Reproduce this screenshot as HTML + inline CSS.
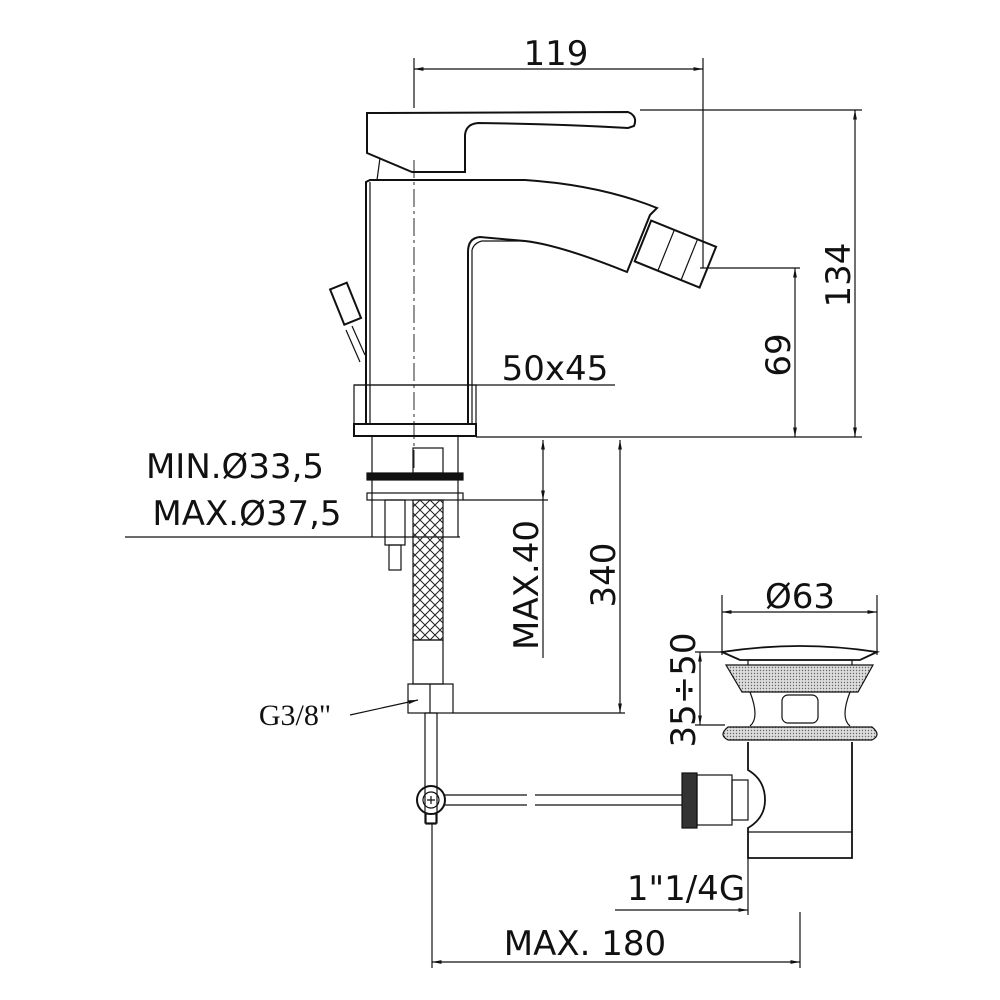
<!DOCTYPE html>
<html><head><style>body{margin:0;background:#fff}svg{display:block}text{font-family:"DejaVu Sans","Liberation Sans",sans-serif;fill:#111}</style></head><body>
<svg width="1000" height="1000" viewBox="0 0 1000 1000" xmlns="http://www.w3.org/2000/svg">
<defs>
<marker id="a" viewBox="0 0 10 10" refX="10" refY="5" markerWidth="8" markerHeight="8" orient="auto-start-reverse"><path d="M0,3 L10,5 L0,7z" fill="#111"/></marker>
<pattern id="x" width="10" height="10" patternUnits="userSpaceOnUse"><path d="M0,0L10,10M10,0L0,10" stroke="#222" stroke-width="1"/></pattern>
<pattern id="d" width="3" height="3" patternUnits="userSpaceOnUse"><rect width="3" height="3" fill="#ddd"/><circle cx="1.5" cy="1.5" r="0.7" fill="#666"/></pattern>
</defs>
<g fill="none" stroke="#111" stroke-width="1.2">
<!-- top dim 119 -->
<line x1="414" y1="58" x2="414" y2="108"/><line x1="703" y1="58" x2="703" y2="268"/>
<line x1="414" y1="69" x2="703" y2="69" marker-start="url(#a)" marker-end="url(#a)"/>
<!-- lever -->
<path stroke-width="2" d="M367,113 L628,112 Q638,116 634,126 L628,128 Q560,124 478,123 Q466,124 465,135 L465,172 L412,172 L367,153 Z"/>
<line x1="380" y1="158" x2="377" y2="180"/>
<!-- body -->
<path stroke-width="2" d="M366,425 L366,182 L370,180 L525,180 Q600,185 657,208 L650,215 L627,272 Q560,245 525,241 L480,237 Q468,238 468,252 L468,425"/>
<path d="M472,425 L472,250 Q474,243 482,241 L525,241"/>
<path d="M370,182 L370,425"/>
<!-- aerator -->
<g transform="rotate(22 675 255)"><rect x="640" y="232" width="70" height="44" stroke-width="2"/><line x1="665" y1="232" x2="665" y2="276"/><line x1="690" y1="232" x2="690" y2="276"/></g>
<!-- center dash line -->
<line x1="414" y1="160" x2="414" y2="470" stroke-dasharray="18,4,3,4" stroke-width="0.9"/>
<!-- base -->
<rect x="354" y="385" width="122" height="39"/>
<rect x="354" y="424" width="122" height="12" stroke-width="2"/>
<line x1="354" y1="385" x2="615" y2="385"/>
<!-- knob -->
<g transform="rotate(-22 345 305)"><rect x="337" y="285" width="18" height="38" stroke-width="2"/></g>
<path d="M352,326 L365,355 M346,330 L360,362"/>
<!-- right dims -->
<line x1="476" y1="437" x2="862" y2="437"/>
<line x1="640" y1="110" x2="862" y2="110"/>
<line x1="855" y1="110" x2="855" y2="437" marker-start="url(#a)" marker-end="url(#a)"/>
<line x1="700" y1="268" x2="800" y2="268"/>
<line x1="795" y1="268" x2="795" y2="437" marker-start="url(#a)" marker-end="url(#a)"/>
<!-- under deck -->
<line x1="372" y1="437" x2="372" y2="537"/><line x1="458" y1="437" x2="458" y2="537"/>
<line x1="125" y1="537" x2="460" y2="537"/>
<rect x="367" y="473" width="96" height="7" fill="#111"/>
<rect x="367" y="493" width="96" height="7"/>
<rect x="385" y="500" width="20" height="45"/><rect x="389" y="545" width="12" height="25"/>
<rect x="413" y="500" width="30" height="140" fill="url(#x)"/>
<rect x="413" y="448" width="30" height="25"/>
<rect x="413" y="640" width="30" height="44"/>
<rect x="408" y="684" width="45" height="29"/><line x1="430" y1="684" x2="430" y2="713"/>
<rect x="425" y="713" width="12" height="110"/>
<circle cx="431" cy="800" r="14" stroke-width="2"/><circle cx="431" cy="800" r="8"/>
<path d="M427,800h8M431,796v8"/>
<rect x="426" y="814" width="10" height="10"/>
<line x1="432" y1="824" x2="432" y2="968"/>
<line x1="350" y1="715" x2="418" y2="700" marker-end="url(#a)"/>
<!-- MAX40 / 340 -->
<line x1="463" y1="500" x2="548" y2="500"/>
<line x1="543" y1="440" x2="543" y2="500" marker-start="url(#a)" marker-end="url(#a)"/>
<line x1="543" y1="500" x2="543" y2="658"/>
<line x1="620" y1="440" x2="620" y2="713" marker-start="url(#a)" marker-end="url(#a)"/>
<line x1="453" y1="713" x2="625" y2="713"/>
<!-- rod -->
<path d="M445,795 L527,795 M445,805 L527,805 M535,795 L688,795 M535,805 L688,805"/>
<!-- drain -->
<line x1="722" y1="595" x2="722" y2="655"/><line x1="877" y1="595" x2="877" y2="655"/>
<line x1="722" y1="612" x2="877" y2="612" marker-start="url(#a)" marker-end="url(#a)"/>
<path stroke-width="1.8" d="M722,652 Q800,640 877,652 L860,660 L740,660 Z"/>
<rect x="748" y="660" width="104" height="6"/>
<path fill="url(#d)" d="M726,665 L873,665 L858,692 L742,692 Z"/>
<path d="M750,692 Q760,718 750,726 M850,692 Q840,718 850,726"/>
<rect x="782" y="695" width="36" height="28" rx="6"/>
<path fill="url(#d)" d="M728,727 L872,727 Q882,735 872,740 L728,740 Q718,735 728,727Z"/>
<line x1="700" y1="652" x2="700" y2="725" marker-start="url(#a)" marker-end="url(#a)"/>
<line x1="695" y1="652" x2="725" y2="652"/><line x1="695" y1="725" x2="725" y2="725"/>
<path stroke-width="1.8" d="M748,742 L748,770 Q765,780 765,800 Q765,818 748,828 L748,858 L852,858 L852,742"/>
<line x1="748" y1="832" x2="852" y2="832"/>
<rect x="682" y="773" width="15" height="55" fill="#333"/><rect x="697" y="775" width="35" height="50"/>
<rect x="732" y="780" width="16" height="40"/>
<line x1="748" y1="858" x2="748" y2="915"/><line x1="800" y1="912" x2="800" y2="968"/>
<line x1="615" y1="910" x2="748" y2="910" marker-end="url(#a)"/>
<line x1="432" y1="962" x2="800" y2="962" marker-start="url(#a)" marker-end="url(#a)"/>
</g>
<g font-size="34">
<text x="556" y="65" text-anchor="middle">119</text>
<text x="555" y="380" text-anchor="middle">50x45</text>
<text transform="translate(850,275) rotate(-90)" text-anchor="middle">134</text>
<text transform="translate(790,355) rotate(-90)" text-anchor="middle">69</text>
<text x="235" y="478" text-anchor="middle">MIN.Ø33,5</text>
<text x="247" y="525" text-anchor="middle">MAX.Ø37,5</text>
<text transform="translate(538,585) rotate(-90)" text-anchor="middle">MAX.40</text>
<text transform="translate(615,575) rotate(-90)" text-anchor="middle">340</text>
<text x="800" y="608" text-anchor="middle">Ø63</text>
<text transform="translate(695,690) rotate(-90)" text-anchor="middle">35÷50</text>
<text x="686" y="900" text-anchor="middle">1"1/4G</text>
<text x="585" y="955" text-anchor="middle">MAX. 180</text>
</g>
<text x="295" y="725" text-anchor="middle" font-size="30" style="font-family:'Liberation Serif',serif">G3/8"</text>
</svg>
</body></html>
